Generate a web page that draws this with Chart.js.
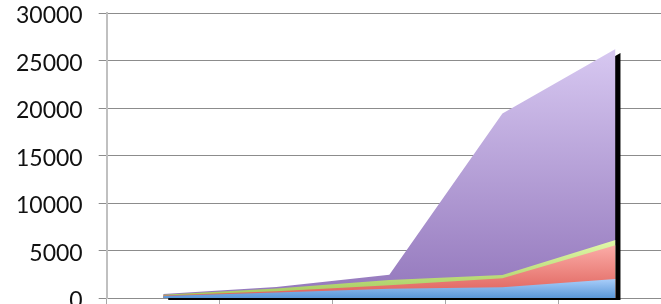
<!DOCTYPE html>
<html>
<head>
<meta charset="utf-8">
<script src="https://cdn.jsdelivr.net/npm/chart.js@4.4.1/dist/chart.umd.min.js"></script>
<style>
  html, body { margin: 0; padding: 0; background: #fff; overflow: hidden; }
  #chart { display: block; }
</style>
</head>
<body>
<canvas id="chart" width="680" height="304"></canvas>
<script>
// categories (their labels are cut off below the picture)
const categories = ['1', '2', '3', '4', '5'];

// stacked series, bottom to top
const seriesBlue = [200, 580, 980, 1130, 2000];
const seriesRed = [60, 130, 360, 940, 3550];
const seriesGreen = [80, 300, 560, 350, 550];
const seriesPurple = [90, 150, 550, 17000, 20100];

const yTicks = [0, 5000, 10000, 15000, 20000, 25000, 30000];

const allSeries = [seriesBlue, seriesRed, seriesGreen, seriesPurple];
const gradStops = [
    ['#a9cefa', '#5a97d8'],
    ['#fbaca7', '#de5f59'],
    ['#e2f9ab', '#a3c95b'],
    ['#d7c8f1', '#9377bc'],
];

// gradient over each layer's own height, like the excel fills
function layerFill(ctx) {
    const chart = ctx.chart;
    const area = chart.chartArea;
    const i = ctx.datasetIndex;
    if (!area) return gradStops[i][1];
    let top = 0;
    for (let k = 0; k < categories.length; k++) {
        let sum = 0;
        for (let s = 0; s <= i; s++) sum += allSeries[s][k];
        top = Math.max(top, sum);
    }
    const yTop = chart.scales.y.getPixelForValue(top);
    const g = chart.ctx.createLinearGradient(0, yTop, 0, area.bottom);
    g.addColorStop(0, gradStops[i][0]);
    g.addColorStop(1, gradStops[i][1]);
    return g;
}

// black drop shadow of the whole stack, traced from the top layer's points
const shadowPlugin = {
    id: 'areaShadow',
    beforeDatasetsDraw(chart) {
        const pts = chart.getDatasetMeta(3).data;
        const area = chart.chartArea;
        const base = chart.scales.y.getPixelForValue(0);
        const c = chart.ctx;
        c.save();
        c.beginPath();
        c.rect(area.left, area.top, area.right - area.left, area.bottom - area.top + 2);
        c.clip();
        c.translate(5, 4);
        c.beginPath();
        c.moveTo(pts[0].x, base);
        pts.forEach(p => c.lineTo(p.x, p.y));
        c.lineTo(pts[pts.length - 1].x, base);
        c.closePath();
        c.fillStyle = '#000';
        c.fill();
        c.restore();
    }
};

const mkSet = (label, data) => ({
    label: label,
    data: data,
    fill: 'origin',
    backgroundColor: layerFill,
    borderWidth: 0,
    pointRadius: 0,
    tension: 0,
});

new Chart(document.getElementById('chart'), {
    type: 'line',
    data: {
        labels: categories,
        datasets: [
            mkSet('Series 1', seriesBlue),
            mkSet('Series 2', seriesRed),
            mkSet('Series 3', seriesGreen),
            mkSet('Series 4', seriesPurple),
        ],
    },
    options: {
        responsive: false,
        animation: false,
        devicePixelRatio: 1,
        layout: { padding: { left: 0, right: 8, top: 0, bottom: 0 } },
        plugins: {
            legend: { display: false },
            tooltip: { enabled: false },
        },
        scales: {
            x: {
                offset: true,
                grid: {
                    offset: true,
                    drawOnChartArea: false,
                    drawTicks: true,
                    tickLength: 6,
                    color: '#a6a6a6',
                },
                border: { display: true, color: '#8c8c8c', width: 1 },
                ticks: { display: false },
            },
            y: {
                stacked: true,
                min: 0,
                max: 30000,
                afterBuildTicks: (axis) => { axis.ticks = yTicks.map(v => ({ value: v })); },
                afterFit: (axis) => { axis.paddingTop = 13; axis.paddingBottom = 0; },
                grid: {
                    color: '#8c8c8c',
                    lineWidth: 1,
                    drawTicks: true,
                    tickLength: 8,
                },
                border: { display: true, color: '#c0c0c0', width: 2 },
                ticks: {
                    padding: 16,
                    labelOffset: 3,
                    color: '#111',
                    font: { family: 'Lato', size: 23 },
                    callback: (v) => String(v),
                },
            },
        },
    },
    plugins: [shadowPlugin],
});
</script>
</body>
</html>
